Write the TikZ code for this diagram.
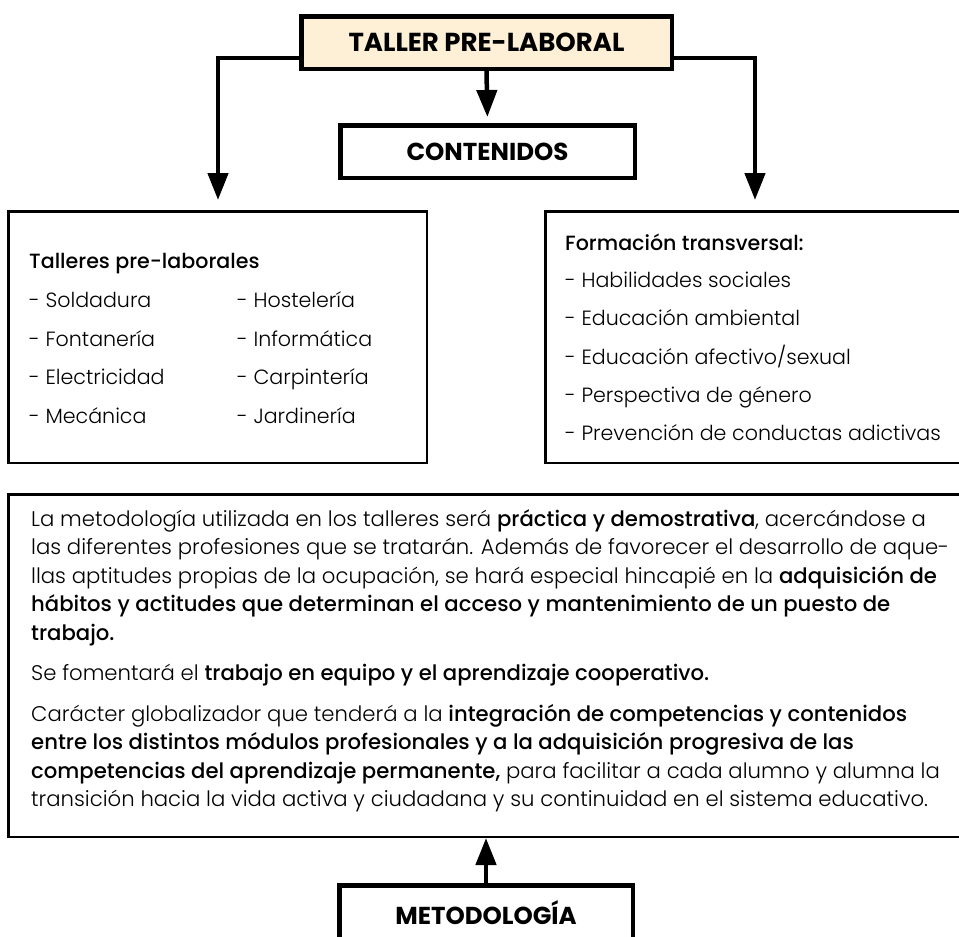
\documentclass[tikz,border=0pt]{standalone}
\usepackage{fontspec}
\setmainfont{Poppins}[UprightFont=*-Light, BoldFont=*-Medium]
\newfontfamily\titlefont{Poppins}[UprightFont=*-Bold]
\usetikzlibrary{arrows.meta}
\definecolor{cream}{HTML}{FDF0D6}
\tikzset{
  titlebox/.style={draw, line width=4.5pt, inner sep=0pt, font=\titlefont\fontsize{24.5}{28}\selectfont},
  framebox/.style={draw, line width=2.5pt, inner sep=0pt},
  conn/.style={line width=4.5pt, -{Triangle[length=27pt,width=20pt]}},
  itemtxt/.style={anchor=base west, inner sep=0pt, font=\fontsize{20.6}{24}\selectfont},
  bodytxt/.style={anchor=base west, inner sep=0pt, font=\fontsize{21.2}{25}\selectfont},
}
\begin{document}
\begin{tikzpicture}[x=1pt,y=-1pt]
\useasboundingbox (0,0) rectangle (959,937);
\clip (0,0) rectangle (959,937);
% boxes
\node[titlebox, fill=cream, minimum width=370.5pt, minimum height=52.5pt, font=\titlefont\fontsize{26}{30}\selectfont] (top) at (486.5,42.5) {TALLER PRE-LABORAL};
\node[titlebox, minimum width=294.5pt, minimum height=52.5pt] (cont) at (487.5,151.5) {CONTENIDOS};
\node[framebox, minimum width=418.5pt, minimum height=251.5pt] (lbox) at (217.5,337) {};
\node[framebox, minimum width=419.5pt, minimum height=251.5pt] (rbox) at (755,337) {};
\node[framebox, minimum width=956.5pt, minimum height=342.5pt] (tbox) at (486.5,665.5) {};
\node[titlebox, minimum width=293.5pt, minimum height=55.5pt] (meto) at (486,913) {METODOLOGÍA};
% connector ends
\coordinate (la) at (218,200);
\coordinate (ra) at (755,200);
% connectors
\draw[conn] ([yshift=-15.5pt]top.west) -| (la);
\draw[conn] ([yshift=-15.5pt]top.east) -| (ra);
\draw[conn, shorten >=6pt] (top.south) -- (cont.north);
\draw[conn] (meto.north) -- (meto.north |- tbox.south);
% left list
\node[itemtxt] (lh) at (29,268) {\textbf{Talleres pre-laborales}};
\node[itemtxt] (l1) at (29,307) {- Soldadura};
\node[itemtxt] (l2) at (29,346) {- Fontanería};
\node[itemtxt] (l3) at (29,384) {- Electricidad};
\node[itemtxt] (l4) at (29,423) {- Mecánica};
\node[itemtxt] (l5) at (237,307) {- Hostelería};
\node[itemtxt] (l6) at (237,346) {- Informática};
\node[itemtxt] (l7) at (237,384) {- Carpintería};
\node[itemtxt] (l8) at (237,423) {- Jardinería};
% right list
\node[itemtxt] (rh) at (565,250) {\textbf{Formación transversal:}};
\node[itemtxt] (r1) at (565,287) {- Habilidades sociales};
\node[itemtxt] (r2) at (565,325) {- Educación ambiental};
\node[itemtxt] (r3) at (565,364) {- Educación afectivo/sexual};
\node[itemtxt] (r4) at (565,402) {- Perspectiva de género};
\node[itemtxt] (r5) at (565,440) {- Prevención de conductas adictivas};
% body text
\node[bodytxt] (b1) at (31,526) {La metodología utilizada en los talleres será \textbf{práctica y demostrativa}, acercándose a};
\node[bodytxt] (b2) at (31,554.5) {las diferentes profesiones que se tratarán. Además de favorecer el desarrollo de aque-};
\node[bodytxt] (b3) at (31,583) {llas aptitudes propias de la ocupación, se hará especial hincapié en la \textbf{adquisición de}};
\node[bodytxt] (b4) at (31,611.5) {\textbf{hábitos y actitudes que determinan el acceso y mantenimiento de un puesto de}};
\node[bodytxt] (b5) at (31,640) {\textbf{trabajo.}};
\node[bodytxt] (b6) at (31,680.5) {Se fomentará el \textbf{trabajo en equipo y el aprendizaje cooperativo.}};
\node[bodytxt] (b7) at (31,721) {Carácter globalizador que tenderá a la \textbf{integración de competencias y contenidos}};
\node[bodytxt] (b8) at (31,749.5) {\textbf{entre los distintos módulos profesionales y a la adquisición progresiva de las}};
\node[bodytxt] (b9) at (31,778) {\textbf{competencias del aprendizaje permanente,} para facilitar a cada alumno y alumna la};
\node[bodytxt] (b10) at (31,806.5) {transición hacia la vida activa y ciudadana y su continuidad en el sistema educativo.};
\end{tikzpicture}
\end{document}
